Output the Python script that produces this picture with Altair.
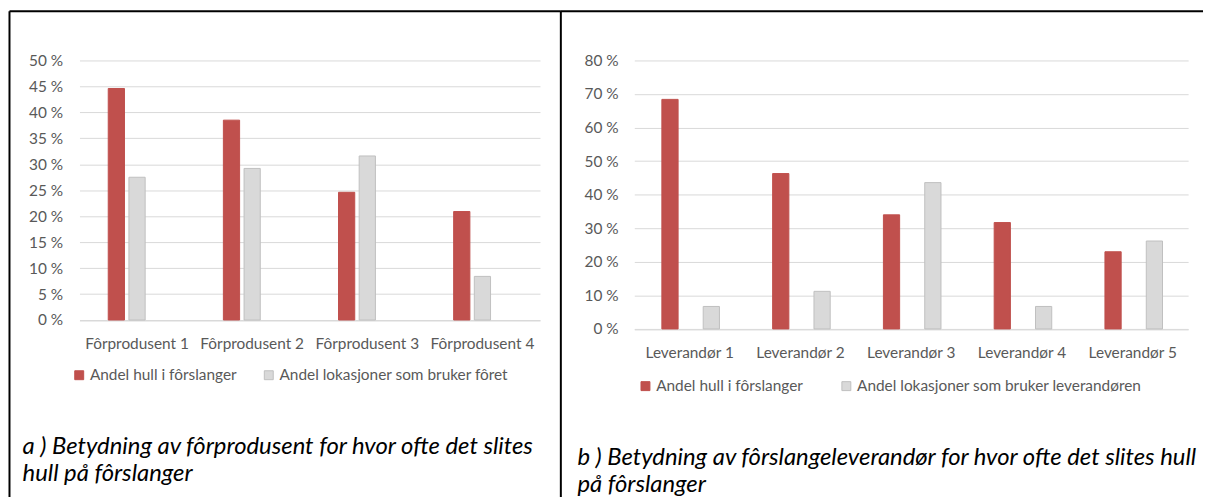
import altair as alt
import pandas as pd

# ---- data ----
cats_a = ["Fôrprodusent 1", "Fôrprodusent 2", "Fôrprodusent 3", "Fôrprodusent 4"]
series_a = ["Andel hull i fôrslanger", "Andel lokasjoner som bruker fôret"]
hull_a = [44.6, 38.5, 24.6, 20.9]
lok_a = [27.5, 29.2, 31.6, 8.4]
yticks_a = [0, 5, 10, 15, 20, 25, 30, 35, 40, 45, 50]
caption_a = ["a ) Betydning av fôrprodusent for hvor ofte det slites", "hull på fôrslanger"]

cats_b = ["Leverandør 1", "Leverandør 2", "Leverandør 3", "Leverandør 4", "Leverandør 5"]
series_b = ["Andel hull i fôrslanger", "Andel lokasjoner som bruker leverandøren"]
hull_b = [68.4, 46.3, 34.0, 31.7, 23.0]
lok_b = [6.7, 11.2, 43.6, 6.7, 26.2]
yticks_b = [0, 10, 20, 30, 40, 50, 60, 70, 80]
caption_b = ["b ) Betydning av fôrslangeleverandør for hvor ofte det slites hull", "på fôrslanger"]

FONT = "Lato"
TXT = "#595959"
GRID = "#D9D9D9"
TOP = -49.5


def make_df(cats, series, s1, s2):
    rows = []
    for c, v in zip(cats, s1):
        rows.append({"cat": c, "serie": series[0], "val": v})
    for c, v in zip(cats, s2):
        rows.append({"cat": c, "serie": series[1], "val": v})
    return pd.DataFrame(rows)


def panel(cats, series, s1, s2, yticks, width, height, x_pin, x_pout, off_pin, group_w,
          leg_x, leg_y, col_pad, frame_x, frame_right, cap, cap_dx, cap_dy, ypad):
    df = make_df(cats, series, s1, s2)
    legend = alt.Legend(
        title=None, orient="none", legendX=leg_x, legendY=leg_y,
        direction="horizontal", symbolType="square", symbolSize=81,
        symbolStrokeWidth=1, labelFont=FONT, labelFontSize=15.5,
        labelColor=TXT, labelOffset=3, columnPadding=col_pad, padding=0,
        labelLimit=0,
    )
    bars = alt.Chart(df).mark_bar(strokeWidth=1).encode(
        x=alt.X("cat:N", sort=cats,
                scale=alt.Scale(paddingInner=x_pin, paddingOuter=x_pout),
                axis=alt.Axis(title=None, labelAngle=0, ticks=False,
                              domainColor=GRID, domainWidth=1,
                              labelPadding=17, labelFont=FONT,
                              labelFontSize=15.5, labelColor=TXT,
                              labelOverlap=False)),
        xOffset=alt.XOffset("serie:N", sort=series,
                            scale=alt.Scale(range=[0, group_w],
                                            paddingInner=off_pin, paddingOuter=0)),
        y=alt.Y("val:Q",
                scale=alt.Scale(domain=[yticks[0], yticks[-1]], nice=False),
                axis=alt.Axis(title=None, values=yticks, domain=False,
                              ticks=False, gridColor=GRID, gridWidth=1,
                              labelExpr="datum.value + ' %'",
                              labelPadding=ypad, labelFont=FONT,
                              labelFontSize=15.5, labelColor=TXT)),
        color=alt.Color("serie:N", sort=series,
                        scale=alt.Scale(domain=series, range=["#C0504D", "#D9D9D9"]),
                        legend=legend),
        stroke=alt.Stroke("serie:N", sort=series,
                          scale=alt.Scale(domain=series, range=["#C0504D", "#BFBFBF"]),
                          legend=legend),
    )
    one = pd.DataFrame({"k": [0]})
    vrule = alt.Chart(one).mark_rule(color="black", strokeWidth=2).encode(
        x=alt.value(frame_x), y=alt.value(TOP), y2=alt.value(440))
    hrule = alt.Chart(one).mark_rule(color="black", strokeWidth=2).encode(
        x=alt.value(frame_x), x2=alt.value(frame_right), y=alt.value(TOP))
    return alt.layer(bars, vrule, hrule).properties(
        width=width, height=height,
        title=alt.TitleParams(
            text=cap, orient="bottom", anchor="start", frame="group",
            font=FONT, fontStyle="italic", fontWeight="normal", fontSize=24,
            color="black", lineHeight=27.5, baseline="alphabetic",
            offset=0, dx=cap_dx, dy=cap_dy),
    ).resolve_scale(color="independent", stroke="independent")


left = panel(cats_a, series_a, hull_a, lok_a, yticks_a, 464, 261.5,
             0.5, 0.25, 0.215, 58, -8, 309, 24, -70.5, 485, caption_a, -57.3, -44.5, 17)
right = panel(cats_b, series_b, hull_b, lok_b, yticks_b, 558, 270.5,
              0.498, 0.249, 0.1935, 56, 3.5, 320, 35.4, -74, 573, caption_b, -57.3, -33.5, 16.3)

chart = alt.hconcat(left, right, spacing=95, bounds="flush").resolve_scale(
    color="independent", stroke="independent", x="independent", y="independent"
).properties(
    padding={"left": 0, "top": 0, "right": 0, "bottom": 0},
    background="white",
).configure_view(stroke="transparent")

chart.save("out.html", embed_options={"renderer": "svg", "actions": False})
